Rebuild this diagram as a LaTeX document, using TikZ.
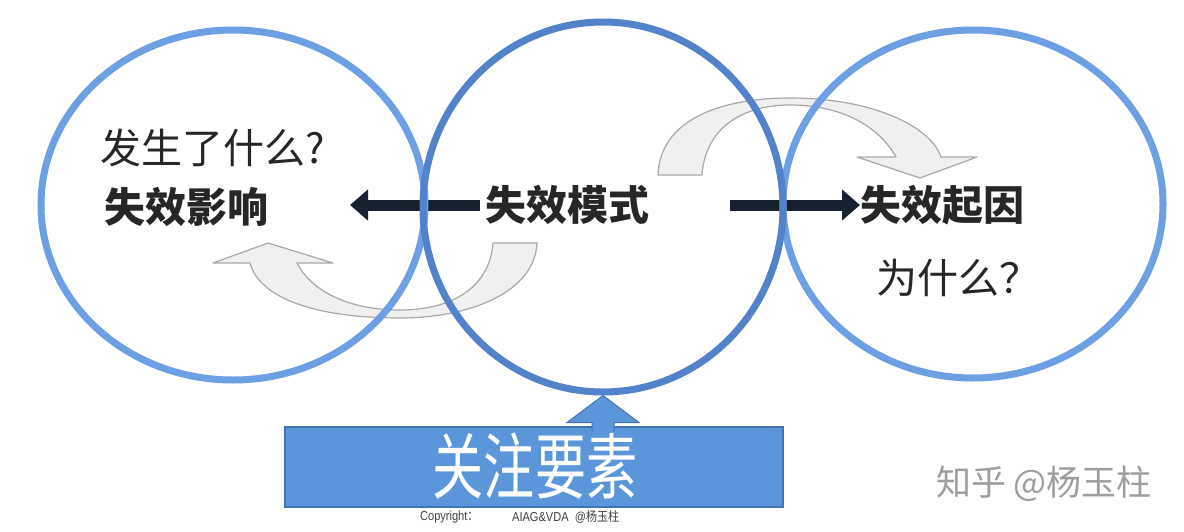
\documentclass[tikz,border=0pt]{standalone}
\usepackage{fontspec}
\newfontfamily\cjk{Noto Sans CJK SC}
\setsansfont{Liberation Sans}
\usetikzlibrary{shapes.geometric,arrows.meta,calc}
\definecolor{ringA}{HTML}{6C9FE3}
\definecolor{ringB}{HTML}{5282CA}
\definecolor{darkarr}{HTML}{16202E}
\definecolor{boxfill}{HTML}{5C96DA}
\definecolor{boxline}{HTML}{4373B5}
\definecolor{grayline}{HTML}{A8A8A8}
\definecolor{grayfill}{HTML}{F0F0F0}
\tikzset{
  ring/.style={ellipse,draw=ringA,line width=7pt,inner sep=0pt},
  ringmid/.style={ring,draw=ringB},
  lbl/.style={inner sep=0pt,anchor=west,font=\cjk\fontsize{41}{45}\selectfont,text=black!85},
  lblb/.style={lbl,font=\cjk\bfseries\fontsize{41}{45}\selectfont},
  blackarrow/.style={draw=darkarr,line width=11pt,-{Triangle[length=18pt,width=30pt]}},
  grayarrow/.style={draw=grayline,fill=grayfill,line width=1.2pt,line join=round},
  small/.style={inner sep=0pt,anchor=west,font=\sffamily\fontsize{13}{15}\selectfont,text=black!75,xscale=0.85},
}
\begin{document}
\begin{tikzpicture}[x=1pt,y=-1pt]
\useasboundingbox (0,0) rectangle (1184,531);
\fill[white] (0,0) rectangle (1184,531);
% gray curved arrows
\path[grayarrow] (658,175) .. controls (660,120) and (720,98) .. (790,98)
  .. controls (870,98) and (930,125) .. (941,157) -- (977,157) -- (920,178) -- (857,157) -- (896,157)
  .. controls (878,125) and (840,105) .. (790,105)
  .. controls (740,105) and (705,130) .. (702,175) -- cycle;
\path[grayarrow] (537,243) .. controls (535,292) and (470,318) .. (400,318)
  .. controls (320,318) and (260,300) .. (250,263) -- (213,263) -- (268,243) -- (333,263) -- (297,263)
  .. controls (312,292) and (350,310) .. (400,310)
  .. controls (455,310) and (490,285) .. (493,243) -- cycle;
% text nodes
\node[lbl] (what) at (100,148) {发生了什么?};
\node[lblb] (effect) at (104,207) {失效影响};
\node[lblb] (mode) at (485,205) {失效模式};
\node[lblb] (cause) at (860,205) {失效起因};
\node[lbl] (why) at (876,278) {为什么？};
% black arrows
\coordinate (ltip) at (350,205);
\coordinate (rtail) at (730,205);
\draw[blackarrow,shorten <=5pt] (mode.west) -- (ltip);
\draw[blackarrow] (rtail) -- (cause.west);
% rings
\node[ring,minimum width=384pt,minimum height=350pt] (left) at (233,205) {};
\node[ring,minimum width=380pt,minimum height=348pt] (right) at (973,204) {};
\node[ringmid,minimum width=360pt,minimum height=370pt] (mid) at (603,207) {};
% bottom box
\node[draw=boxline,fill=boxfill,line width=2pt,minimum width=498pt,minimum height=80pt,inner sep=0pt] (focus) at (534,467) {};
\node[text=white,inner sep=0pt,font=\cjk\fontsize{72}{76}\selectfont,xscale=0.71] (focustxt) at (535,466) {关注要素};
% up arrow
\path (mid.south) coordinate (ut);
\filldraw[draw=boxline,fill=boxfill,line width=1pt,line join=miter]
  (ut) -- ($(ut)+(36,27)$) -- ($(ut)+(11,27)$) -- ($(ut)+(11,35)$) -- ($(ut)+(-11,35)$) -- ($(ut)+(-11,27)$) -- ($(ut)+(-36,27)$) -- cycle;
\fill[boxfill] ($(ut)+(-10,26)$) rectangle ($(ut)+(10,37)$);
% copyright
\node[small] (copy) at (420,517) {Copyright\cjk：};
\node[small] (aiag) at (512,517) {AIAG\&VDA\ \ @{\cjk 杨玉柱}};
% watermark
\node[inner sep=0pt,font=\cjk\fontsize{35}{38}\selectfont,text=black!38] (wm) at (1044,484) {知乎 @杨玉柱};
\end{tikzpicture}
\end{document}
